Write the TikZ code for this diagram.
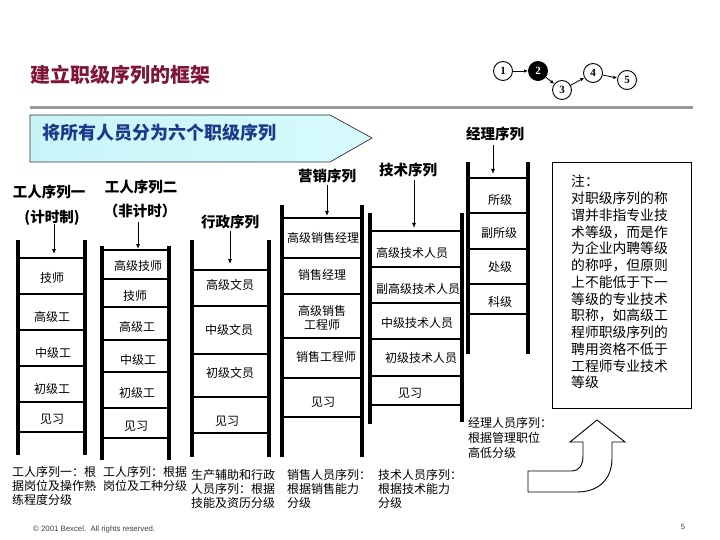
\documentclass[tikz,border=0pt]{standalone}
\usepackage{fontspec}
\setmainfont{Noto Sans CJK SC}
\newfontfamily\numfont{Liberation Serif}
\newfontfamily\latfont{Liberation Sans}
\usetikzlibrary{arrows.meta}
\definecolor{titlered}{HTML}{7E1538}
\definecolor{bannerblue}{HTML}{1A3A8A}
\definecolor{bannerleft}{HTML}{C8F4F8}
\definecolor{bannerright}{HTML}{D8FBFC}
\definecolor{rulegray}{HTML}{9A9A9A}
\tikzset{
  rail/.style={line width=3.2pt},
  rung/.style={line width=1.1pt},
  lab/.style={font=\fontsize{12}{14}\selectfont, inner sep=0pt, align=center},
  sertitle/.style={font=\fontsize{14.5}{16}\selectfont\bfseries, inner sep=0pt},
  down/.style={-{Latex[length=5pt,width=4pt]}, line width=0.8pt},
  desc/.style={font=\fontsize{12}{14}\selectfont, align=left, anchor=north west, inner sep=0pt},
  stepcirc/.style={circle, draw, line width=0.9pt, fill=white, minimum size=19pt, inner sep=0pt, font=\numfont\bfseries\fontsize{11}{12}\selectfont},
  flowarrow/.style={-{Latex[length=4pt,width=3.5pt]}, line width=0.8pt}
}
\begin{document}
\begin{tikzpicture}[x=1pt,y=-1pt]
\useasboundingbox (0,0) rectangle (720,540);
\fill[white] (0,0) rectangle (720,540);

% title
\node[anchor=west, inner sep=0pt, text=titlered, font=\fontsize{20}{22}\selectfont\bfseries] (title) at (30,75) {建立职级序列的框架};
\draw[rulegray, line width=3pt] (30,108) -- (693,108);

% step circles
\node[stepcirc] (c1) at (503,71) {1};
\node[stepcirc, fill=black, text=white] (c2) at (538,71) {2};
\node[stepcirc] (c3) at (562,90) {3};
\node[stepcirc] (c4) at (593,73) {4};
\node[stepcirc] (c5) at (627,80) {5};
\draw[flowarrow] (c1) -- (c2);
\draw[flowarrow] (c2) -- (c3);
\draw[flowarrow] (c3) -- (c4);
\draw[flowarrow] (c4) -- (c5);

% banner
\draw[line width=0.7pt, draw=black!80, left color=bannerleft, right color=bannerright]
  (30,115) -- (330,115) -- (372,138) -- (330,162) -- (30,162) -- cycle;
\node[anchor=west, inner sep=0pt, text=bannerblue, font=\fontsize{18}{20}\selectfont\bfseries] (banner) at (42,133) {将所有人员分为六个职级序列};

% ---- ladder 1
\node[sertitle] (t1) at (49,192) {工人序列一};
\node[sertitle] (t1b) at (52,218) {(计时制)};
\coordinate (a1) at (54,254);
\draw[down] (54,224) -- (a1);
\draw[rail] (18,240) -- (18,455);
\draw[rail] (85,240) -- (85,455);
\foreach \y in {258,294,330,366,402,432} \draw[rung] (18,\y) -- (85,\y);
\node[lab] (l1a) at (52,278) {技师};
\node[lab] (l1b) at (52,317) {高级工};
\node[lab] (l1c) at (53,353) {中级工};
\node[lab] (l1d) at (52,389) {初级工};
\node[lab] (l1e) at (52,419) {见习};

% ---- ladder 2
\node[sertitle] (t2) at (141,187) {工人序列二};
\node[sertitle] (t2b) at (140,211) {（非计时）};
\coordinate (a2) at (138,249);
\draw[down] (138,222) -- (a2);
\draw[rail] (102,246) -- (102,460);
\draw[rail] (169,246) -- (169,460);
\foreach \y in {250,279,307,340,372,408,438} \draw[rung] (102,\y) -- (169,\y);
\node[lab] (l2a) at (138,266) {高级技师};
\node[lab] (l2b) at (135,296) {技师};
\node[lab] (l2c) at (137,327) {高级工};
\node[lab] (l2d) at (138,360) {中级工};
\node[lab] (l2e) at (137,393) {初级工};
\node[lab] (l2f) at (136,426) {见习};

% ---- ladder 3
\node[sertitle] (t3) at (230,222) {行政序列};
\coordinate (a3) at (230,264);
\draw[down] (t3.south) ++(0,2) -- (a3);
\draw[rail] (192,240) -- (192,457);
\draw[rail] (269,240) -- (269,457);
\foreach \y in {270,306,354,397,433} \draw[rung] (192,\y) -- (269,\y);
\node[lab] (l3a) at (230,285) {高级文员};
\node[lab] (l3b) at (229,330) {中级文员};
\node[lab] (l3c) at (230,373) {初级文员};
\node[lab] (l3d) at (227,421) {见习};

% ---- ladder 4
\node[sertitle] (t4) at (327,176) {营销序列};
\coordinate (a4) at (327,216);
\draw[down] (t4.south) ++(0,2) -- (a4);
\draw[rail] (282,205) -- (282,457);
\draw[rail] (362,205) -- (362,457);
\foreach \y in {218,258,294,338,378,417} \draw[rung] (282,\y) -- (362,\y);
\node[lab] (l4a) at (323,238) {高级销售经理};
\node[lab] (l4b) at (322,275) {销售经理};
\node[lab, font=\fontsize{12}{13.5}\selectfont] (l4c) at (322,318) {高级销售\\工程师};
\node[lab] (l4d) at (326,357) {销售工程师};
\node[lab] (l4e) at (323,402) {见习};

% ---- ladder 5
\node[sertitle] (t5) at (408,170) {技术序列};
\coordinate (a5) at (414,228);
\draw[down] (414,180) -- (a5);
\draw[rail] (370,213) -- (370,424);
\draw[rail] (462,213) -- (462,422);
\foreach \y in {231,267,303,339,376,405} \draw[rung] (370,\y) -- (462,\y);
\node[lab] (l5a) at (412,253) {高级技术人员};
\node[lab] (l5b) at (418,289) {副高级技术人员};
\node[lab] (l5c) at (417,323) {中级技术人员};
\node[lab] (l5d) at (421,358) {初级技术人员};
\node[lab] (l5e) at (410,393) {见习};

% ---- ladder 6
\node[sertitle] (t6) at (495,134) {经理序列};
\coordinate (a6) at (493,174);
\draw[down] (493,145) -- (a6);
\draw[rail] (468,162) -- (468,354);
\draw[rail] (528,162) -- (528,354);
\foreach \y in {178,213,249,284,314} \draw[rung] (468,\y) -- (528,\y);
\node[lab] (l6a) at (500,200) {所级};
\node[lab] (l6b) at (499,233) {副所级};
\node[lab] (l6c) at (500,267) {处级};
\node[lab] (l6d) at (500,302) {科级};

% note box
\draw[line width=0.9pt] (552,162) rectangle (691,408);
\node[anchor=north west, inner sep=0pt, align=left, font=\fontsize{13.8}{16.75}\selectfont] (note) at (571,175)
  {注：\\对职级序列的称\\谓并非指专业技\\术等级，而是作\\为企业内聘等级\\的称呼，但原则\\上不能低于下一\\等级的专业技术\\职称，如高级工\\程师职级序列的\\聘用资格不低于\\工程师专业技术\\等级};

% descriptions
\node[desc] (d1) at (12,466) {工人序列一：根\\据岗位及操作熟\\练程度分级};
\node[desc] (d2) at (103,466) {工人序列：根据\\岗位及工种分级};
\node[desc] (d3) at (191,469) {生产辅助和行政\\人员序列：根据\\技能及资历分级};
\node[desc] (d4) at (287,469) {销售人员序列：\\根据销售能力\\分级};
\node[desc] (d5) at (378,469) {技术人员序列：\\根据技术能力\\分级};
\node[desc, font=\fontsize{12}{15}\selectfont] (d6) at (468,417) {经理人员序列：\\根据管理职位\\高低分级};

% curved block arrow
\draw[line width=0.9pt, fill=white]
  (528,471) -- (572,471) .. controls (579,471) and (583,465) .. (583,456) -- (583,442)
  -- (570,442) -- (597,420) -- (625,442) -- (612,442) -- (612,458)
  .. controls (612,480) and (598,492) .. (577,492) -- (528,492) -- cycle;

% footer
\node[anchor=west, inner sep=0pt, text=black!75, font=\latfont\fontsize{7.8}{9}\selectfont] (copy) at (33,529) {© 2001 Bexcel.\ \ All rights reserved.};
\node[inner sep=0pt, text=black!75, font=\latfont\fontsize{7.5}{9}\selectfont] (page) at (683,527) {5};
\end{tikzpicture}
\end{document}
